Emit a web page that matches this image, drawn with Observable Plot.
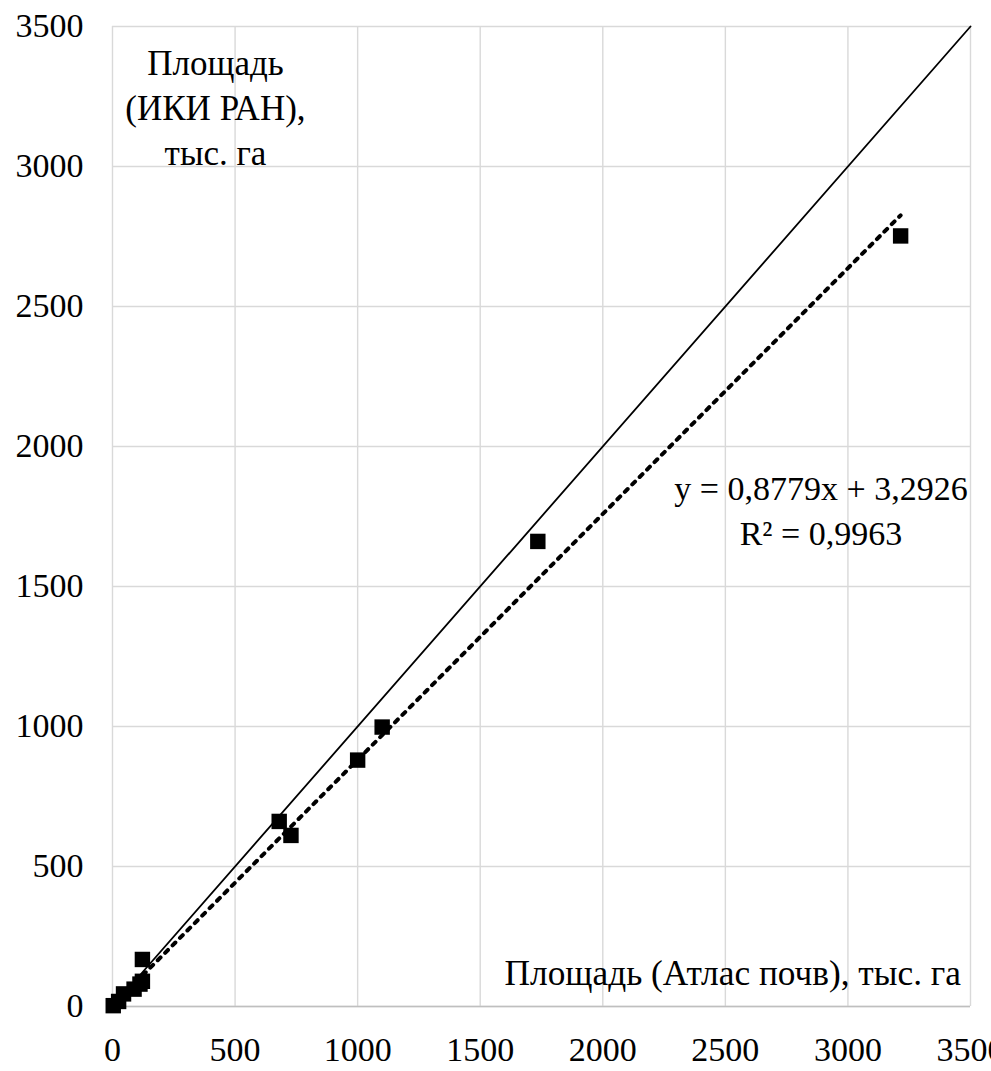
<!DOCTYPE html>
<html>
<head>
<meta charset="utf-8">
<script src="https://cdn.jsdelivr.net/npm/d3@7"></script>
<script src="https://cdn.jsdelivr.net/npm/@observablehq/plot@0.6"></script>
<style>
  html, body { margin: 0; padding: 0; background: #fff; overflow: hidden; }
</style>
</head>
<body>
<div id="chart"></div>
<script>
// Площадь по Атласу почв (x) и по данным ИКИ РАН (y), тыс. га
const atlas = [3, 25, 45, 88, 112, 122, 122, 680, 728, 1000, 1100, 1735, 3215];
const iki   = [3, 18, 45, 62, 80, 90, 168, 661, 611, 880, 998, 1661, 2752];

const ticks = [0, 500, 1000, 1500, 2000, 2500, 3000, 3500];
const slope = 0.8779, intercept = 3.2926;
const eqText = ["y = 0,8779x + 3,2926", "R² = 0,9963"];
const yTitle = ["Площадь", "(ИКИ РАН),", "тыс. га"];
const xTitle = "Площадь (Атлас почв), тыс. га";

const serif = "'Liberation Serif', 'Times New Roman', serif";
const points = atlas.map((x, i) => ({x, y: iki[i]}));
const xMin = d3.min(atlas), xMax = d3.max(atlas);
const trend = [xMin, xMax].map(x => ({x, y: slope * x + intercept}));
const diag = [ticks[0], ticks[ticks.length - 1]].map(v => ({x: v, y: v}));

const chart = Plot.plot({
  width: 991,
  height: 1071,
  marginLeft: 112,
  marginRight: 21,
  marginTop: 26,
  marginBottom: 65,
  style: {fontFamily: serif, fontSize: "34px", color: "#000", background: "#fff"},
  x: {domain: [0, 3500], ticks, tickFormat: d => String(d)},
  y: {domain: [0, 3500], ticks, tickFormat: d => String(d)},
  marks: [
    Plot.gridX(ticks, {stroke: "#d9d9d9", strokeOpacity: 1, strokeWidth: 1.4}),
    Plot.gridY(ticks, {stroke: "#d9d9d9", strokeOpacity: 1, strokeWidth: 1.4}),
    Plot.ruleY([0], {stroke: "#bfbfbf", strokeWidth: 1.6}),
    Plot.axisX(ticks, {tickSize: 0, tickPadding: 30, fontSize: 34, fontFamily: serif, label: null, tickFormat: d => String(d)}),
    Plot.axisY(ticks, {tickSize: 0, tickPadding: 29, fontSize: 34, fontFamily: serif, label: null, tickFormat: d => String(d)}),
    Plot.line(diag, {x: "x", y: "y", stroke: "#000", strokeWidth: 1.8}),
    Plot.line(trend, {x: "x", y: "y", stroke: "#000", strokeWidth: 4, strokeDasharray: "4 6.5"}),
    Plot.dot(points, {x: "x", y: "y", symbol: "square", r: 8.7, fill: "#000", stroke: null}),
    Plot.text([eqText.join("\n")], {x: 2890, y: 1779, text: d => d, fontSize: 34, fontFamily: serif, lineHeight: 1.3, textAnchor: "middle", fill: "#000"}),
    Plot.text([yTitle.join("\n")], {x: 420, y: 3218, text: d => d, fontSize: 35, fontFamily: serif, lineHeight: 1.29, textAnchor: "middle", fill: "#000"}),
    Plot.text([xTitle], {x: 3461, y: 118, text: d => d, fontSize: 35.3, fontFamily: serif, textAnchor: "end", fill: "#000"})
  ]
});
document.getElementById("chart").appendChild(chart);
</script>
</body>
</html>
